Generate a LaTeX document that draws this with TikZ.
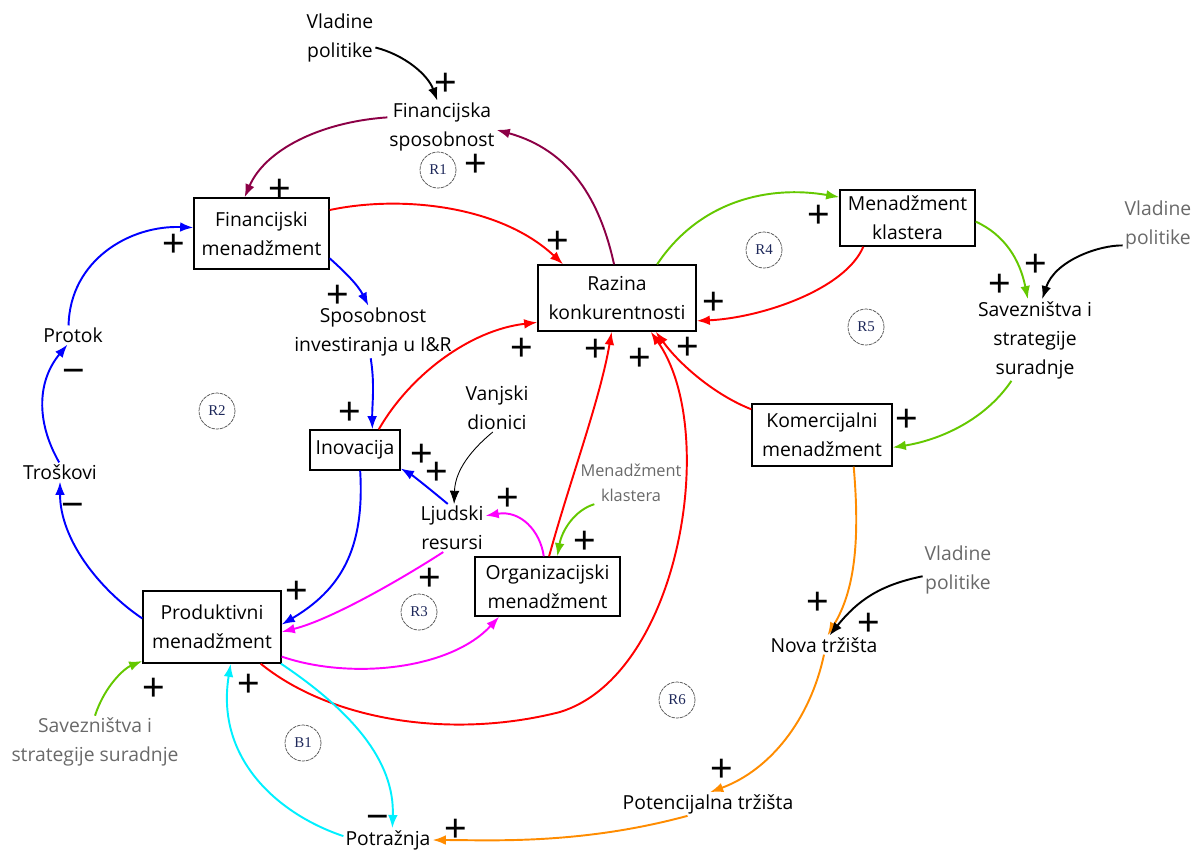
\documentclass[tikz,border=0pt]{standalone}
\usepackage{fontspec}
\setmainfont{Open Sans}
\newfontfamily\signfont{Liberation Sans}
\newfontfamily\loopfont{Liberation Serif}
\usetikzlibrary{arrows.meta}
\definecolor{cmaroon}{RGB}{140,0,70}
\definecolor{cblue}{RGB}{0,0,255}
\definecolor{cred}{RGB}{255,0,0}
\definecolor{cgreen}{RGB}{100,200,0}
\definecolor{cmag}{RGB}{255,0,255}
\definecolor{ccyan}{RGB}{0,240,255}
\definecolor{corange}{RGB}{255,140,0}
\definecolor{cgray}{RGB}{105,105,105}
\definecolor{cloop}{RGB}{30,40,90}
\newcommand{\lbl}{\fontsize{11}{16.5}\selectfont}
\newcommand{\lbs}{\fontsize{9.3}{14.5}\selectfont}
\begin{document}
\begin{tikzpicture}[x=0.02cm,y=-0.02cm,
  box/.style={draw, line width=0.8pt, align=center, font=\lbl, inner sep=1pt},
  txt/.style={align=center, font=\lbl, inner sep=1pt},
  gtxt/.style={txt, text=cgray},
  arr/.style={line width=1.1pt, -{Latex[length=7.5pt,width=5.5pt]}},
  sg/.style={font=\signfont\fontsize{22}{22}\selectfont, inner sep=0, anchor=base, yshift=-7.8pt},
  loopc/.style={circle, draw=black!70, line width=0.4pt, dash pattern=on 2pt off 0.5pt, minimum size=0.72cm, inner sep=0, text=cloop, font=\loopfont\fontsize{8.5}{8.5}\selectfont}]
\useasboundingbox (0,0) rectangle (1194,850);
% boxes
\node[box, minimum width=2.7cm, minimum height=1.42cm] (fm) at (261.5,233.5) {Financijski\\menadžment};
\node[box, minimum width=3.16cm, minimum height=1.32cm] (rk) at (617,298) {Razina\\konkurentnosti};
\node[box, minimum width=2.7cm, minimum height=1.12cm] (mk) at (907.5,218) {Menadžment\\klastera};
\node[box, minimum width=1.8cm, minimum height=0.8cm] (inov) at (355,450) {Inovacija};
\node[box, minimum width=2.8cm, minimum height=1.24cm] (km) at (822,435) {Komercijalni\\menadžment};
\node[box, minimum width=2.9cm, minimum height=1.18cm] (om) at (547.5,586.5) {Organizacijski\\menadžment};
\node[box, minimum width=2.76cm, minimum height=1.44cm] (pm) at (212,627) {Produktivni\\menadžment};
% plain texts
\node[txt] (vp1) at (340,38) {Vladine\\politike};
\node[txt] (fs) at (442,127) {Financijska\\sposobnost};
\node[txt] (sp) at (373,332) {Sposobnost\\investiranja u I\&R};
\node[txt] (pr) at (73,335) {Protok};
\node[txt] (tr) at (60,472) {Troškovi};
\node[txt] (vd) at (497,408) {Vanjski\\dionici};
\node[txt] (lr) at (452,528) {Ljudski\\resursi};
\node[gtxt, font=\lbs] (mk2) at (631,483) {Menadžment\\klastera};
\node[txt] (sv1) at (1035,340) {Savezništva i\\strategije\\suradnje};
\node[gtxt] (vp2) at (1158,225) {Vladine\\politike};
\node[gtxt] (vp3) at (958,570) {Vladine\\politike};
\node[txt] (nt) at (824,645) {Nova tržišta};
\node[gtxt] (sv2) at (95,742) {Savezništva i\\strategije suradnje};
\node[txt] (pt) at (708,804) {Potencijalna tržišta};
\node[txt] (po) at (388,840) {Potražnja};
% loop markers
\node[loopc] (R1) at (438,170) {R1};
\node[loopc] (R2) at (217,411) {R2};
\node[loopc] (R3) at (419,612) {R3};
\node[loopc] (R4) at (764,250) {R4};
\node[loopc] (R5) at (866,327) {R5};
\node[loopc] (R6) at (677,700) {R6};
\node[loopc] (B1) at (303,743) {B1};
% connectors
\draw[arr, black] (vp1.-15) .. controls (405,55) and (428,75) .. (fs.100);
\draw[arr, cmaroon] (fs.170) .. controls (320,122) and (265,150) .. (fm.115);
\draw[arr, cmaroon] (rk.95) .. controls (600,200) and (570,150) .. (fs.-3);
\draw[arr, cred] (fm.19) .. controls (400,195) and (500,205) .. (rk.148);
\draw[arr, cblue] (fm.-20) .. controls (345,272) and (358,285) .. (sp.100);
\draw[arr, cblue] (sp.-95) .. controls (375,385) and (372,405) .. (inov.50);
\draw[arr, cred] (inov.41) .. controls (410,375) and (470,330) .. (rk.-163);
\draw[arr, cblue] (lr.100) .. controls (425,485) and (412,475) .. (inov.-22);
\draw[arr, cblue] (inov.-76) .. controls (365,550) and (340,590) .. (pm.2);
\draw[arr, cblue] (pm.173) .. controls (100,590) and (60,540) .. (tr.-90);
\draw[arr, cblue] (tr.95) .. controls (35,420) and (38,380) .. (pr.-120);
\draw[arr, cblue] (pr.115) .. controls (70,260) and (130,225) .. (fm.175);
\draw[arr, black, line width=0.5pt] (vd.-100) .. controls (465,455) and (455,475) .. (lr.85);
\draw[arr, cmag] (om.97) .. controls (540,530) and (520,510) .. (lr.20);
\draw[arr, cmag] (lr.-110) .. controls (400,580) and (330,620) .. (pm.-4);
\draw[arr, cmag] (pm.-23) .. controls (350,680) and (450,670) .. (om.-148);
\draw[arr, cgreen] (mk2.-150) .. controls (575,510) and (562,530) .. (om.72);
\draw[arr, cred] (om.87) .. controls (570,480) and (600,400) .. (rk.-99);
\draw[arr, cred] (pm.-37) .. controls (330,720) and (450,740) .. (560,712) .. controls (680,675) and (720,430) .. (rk.-45);
\draw[arr, cred] (km.160) .. controls (715,395) and (680,365) .. (rk.-41);
\draw[arr, cred] (mk.-147) .. controls (845,290) and (760,318) .. (rk.-16);
\draw[arr, cgreen] (rk.40) .. controls (700,200) and (770,185) .. (mk.163);
\draw[arr, cgreen] (mk.-3) .. controls (1005,235) and (1020,260) .. (sv1.100);
\draw[arr, black] (vp2.-150) .. controls (1100,245) and (1055,260) .. (sv1.80);
\draw[arr, cgreen] (sv1.-120) .. controls (985,420) and (940,440) .. (km.-10);
\draw[arr, corange] (km.-45) .. controls (860,540) and (855,590) .. (nt.70);
\draw[arr, black] (vp3.-170) .. controls (880,585) and (858,600) .. (nt.60);
\draw[arr, corange] (nt.-90) .. controls (810,720) and (770,770) .. (pt.80);
\draw[arr, corange] (pt.-150) .. controls (580,845) and (490,840) .. (po.east);
\draw[arr, cgreen] (sv2.90) .. controls (105,685) and (125,668) .. (pm.-154);
\draw[arr, ccyan] (po.175) .. controls (280,815) and (215,760) .. (pm.-63);
\draw[arr, ccyan] (pm.-28) .. controls (350,710) and (395,760) .. (po.70);
% polarity signs
\foreach \i/\x/\y in {p1/446/82, p2/476/163, p3/280/188, p4/174/243, p5/558/240, p6/819/214, p7/1036/263, p8/1000/283, p9/714/301, p10/338/294, p11/522/347, p12/596/348, p13/640/357, p14/688/346, p15/350/411, p16/422/453, p17/437/471, p18/508/497, p19/585/540, p20/907/418, p21/297/590, p22/430/577, p23/154/687, p24/249/683, p25/818/601, p26/869/622, p27/722/768, p28/456/828}
  \node[sg] (\i) at (\x,\y) {+};
\foreach \i/\x/\y in {m1/74/370, m2/73/504, m3/378/816}
  \node[sg] (\i) at (\x,\y) {−};
\end{tikzpicture}
\end{document}
